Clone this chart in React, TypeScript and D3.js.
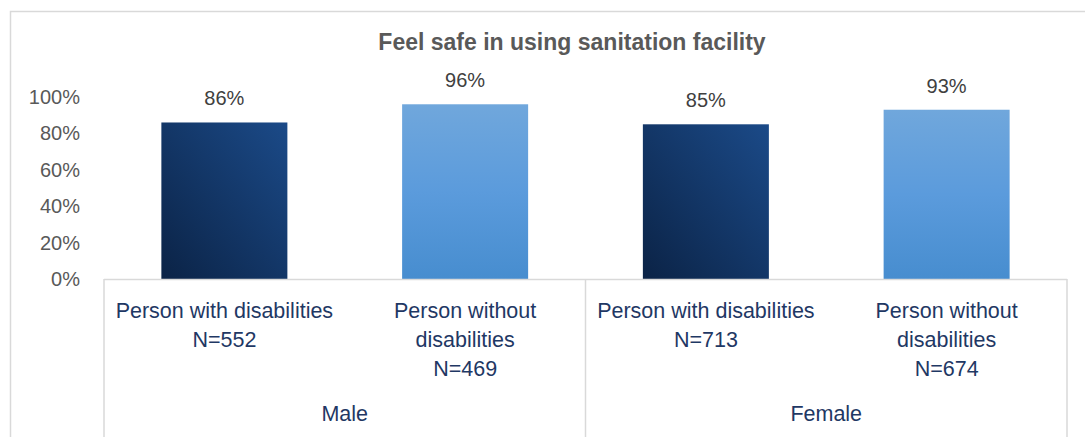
import React from "react";
import * as d3 from "d3";

const title = "Feel safe in using sanitation facility";
const groups = ["Male", "Female"];
const categoryIds = ["m-with", "m-without", "f-with", "f-without"];
const categoryGroup = ["Male", "Male", "Female", "Female"];
const categoryLines: string[][] = [
  ["Person with disabilities", "N=552"],
  ["Person without", "disabilities", "N=469"],
  ["Person with disabilities", "N=713"],
  ["Person without", "disabilities", "N=674"],
];
const categoryKind = ["with", "without", "with", "without"];
const values = [86, 96, 85, 93];
const yTicks = [0, 20, 40, 60, 80, 100];

const W = 1085;
const H = 437;
const plotLeft = 104;
const plotRight = 1067;
const plotTop = 97;
const plotBottom = 279;
const FONT = "'Liberation Sans', Arial, sans-serif";
const GRID = "#d9d9d9";

export default function App() {
  const x = d3
    .scaleBand<string>()
    .domain(categoryIds)
    .range([plotLeft, plotRight])
    .paddingInner(0.4766)
    .paddingOuter(0.2383);
  const y = d3.scaleLinear().domain([0, 100]).range([plotBottom, plotTop]);
  const step = x.step();

  const groupExtent = groups.map((g) => {
    const ids = categoryIds.filter((_, i) => categoryGroup[i] === g);
    const x0 = (x(ids[0]) ?? 0) - (step - x.bandwidth()) / 2;
    const x1 = (x(ids[ids.length - 1]) ?? 0) + x.bandwidth() + (step - x.bandwidth()) / 2;
    return { g, x0, x1 };
  });

  return (
    <svg
      width={W}
      height={H}
      style={{ position: "absolute", left: 0, top: 0, display: "block", background: "#fff" }}
    >
      <defs>
        <linearGradient id="gradDark" x1="0" y1="1" x2="1" y2="0">
          <stop offset="0" stopColor="#0b2346" />
          <stop offset="1" stopColor="#1b4a88" />
        </linearGradient>
        <linearGradient id="gradLight" x1="0" y1="0" x2="0" y2="1">
          <stop offset="0" stopColor="#70a7dc" />
          <stop offset="0.5" stopColor="#5b9bdc" />
          <stop offset="1" stopColor="#478dcf" />
        </linearGradient>
      </defs>
      <rect x={10.5} y={11.5} width={W} height={H} fill="#fff" stroke={GRID} strokeWidth={1.5} />

      <text
        x={572}
        y={42}
        dy="0.35em"
        textAnchor="middle"
        fontFamily={FONT}
        fontWeight="bold"
        fontSize={23}
        fill="#595959"
      >
        {title}
      </text>

      {yTicks.map((t) => (
        <text
          key={t}
          x={80}
          y={y(t)}
          dy="0.35em"
          textAnchor="end"
          fontFamily={FONT}
          fontSize={20}
          fill="#595959"
        >
          {t}%
        </text>
      ))}

      {categoryIds.map((id, i) => (
        <rect
          key={id}
          x={x(id)}
          y={y(values[i])}
          width={x.bandwidth()}
          height={y(0) - y(values[i])}
          fill={categoryKind[i] === "with" ? "url(#gradDark)" : "url(#gradLight)"}
        />
      ))}

      {categoryIds.map((id, i) => (
        <text
          key={id + "-v"}
          x={(x(id) ?? 0) + x.bandwidth() / 2}
          y={y(values[i]) - 24}
          dy="0.35em"
          textAnchor="middle"
          fontFamily={FONT}
          fontSize={20}
          fill="#404040"
        >
          {values[i]}%
        </text>
      ))}

      <line x1={plotLeft} x2={plotRight} y1={plotBottom + 0.5} y2={plotBottom + 0.5} stroke={GRID} strokeWidth={1.5} />
      {[plotLeft, ...groupExtent.map((g) => g.x1)].map((xx, i) => (
        <line key={i} x1={xx} x2={xx} y1={plotBottom} y2={H} stroke={GRID} strokeWidth={1.5} />
      ))}

      {categoryIds.map((id, i) => (
        <text
          key={id + "-c"}
          textAnchor="middle"
          fontFamily={FONT}
          fontSize={21.5}
          fill="#1f3864"
        >
          {categoryLines[i].map((ln, j) => (
            <tspan key={j} x={(x(id) ?? 0) + x.bandwidth() / 2} y={310 + j * 29} dy="0.35em">
              {ln}
            </tspan>
          ))}
        </text>
      ))}

      {groupExtent.map((g) => (
        <text
          key={g.g}
          x={(g.x0 + g.x1) / 2}
          y={413}
          dy="0.35em"
          textAnchor="middle"
          fontFamily={FONT}
          fontSize={21.5}
          fill="#1f3864"
        >
          {g.g}
        </text>
      ))}
    </svg>
  );
}
